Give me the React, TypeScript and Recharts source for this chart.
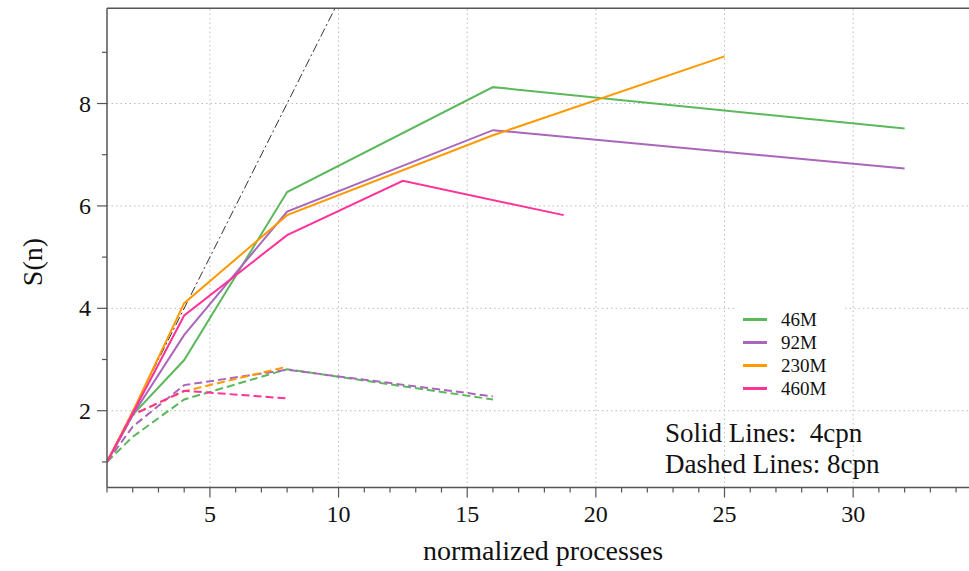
import { LineChart, Line, XAxis, YAxis, ReferenceLine } from "recharts";

// solid = 4cpn, dashed = 8cpn
const X_46M = [1, 2, 4, 8, 16, 32];
const X_92M = [1, 2, 4, 8, 16, 32];
const X_230M = [1, 2, 4, 8, 16, 25];
const X_460M = [1, 2, 4, 8, 12.5, 18.75];

const SOLID_46M = [1, 1.92, 2.99, 6.27, 8.32, 7.51];
const SOLID_92M = [1, 1.92, 3.48, 5.89, 7.48, 6.73];
const SOLID_230M = [1, 1.98, 4.1, 5.82, 7.38, 8.92];
const SOLID_460M = [1, 1.95, 3.86, 5.43, 6.49, 5.82];

const XD_46M = [1, 2, 4, 8, 16];
const XD_92M = [1, 2, 4, 8, 16];
const XD_230M = [1, 2, 4, 8];
const XD_460M = [1, 2, 4, 8];

const DASHED_46M = [1, 1.49, 2.22, 2.81, 2.22];
const DASHED_92M = [1, 1.69, 2.5, 2.8, 2.28];
const DASHED_230M = [1, 1.92, 2.38, 2.86];
const DASHED_460M = [1, 1.92, 2.39, 2.24];

const IDEAL_X = [1, 10];
const IDEAL_Y = [1, 10];

const X_TICKS = [1, 2, 3, 4, 5, 6, 7, 8, 9, 10, 11, 12, 13, 14, 15, 16, 17, 18, 19, 20, 21, 22, 23, 24, 25, 26, 27, 28, 29, 30, 31, 32, 33, 34];
const X_LABELS = [5, 10, 15, 20, 25, 30];
const Y_TICKS = [1, 2, 3, 4, 5, 6, 7, 8, 9];
const Y_LABELS = [2, 4, 6, 8];

const SERIES = [
  { name: "46M", color: "#5cb85c" },
  { name: "92M", color: "#aa66bb" },
  { name: "230M", color: "#ff9900" },
  { name: "460M", color: "#ff3399" },
];

const pts = (xs: number[], ys: number[]) => xs.map((x, i) => ({ x, y: ys[i] }));

const solid = [
  pts(X_46M, SOLID_46M),
  pts(X_92M, SOLID_92M),
  pts(X_230M, SOLID_230M),
  pts(X_460M, SOLID_460M),
];
const dashed = [
  pts(XD_46M, DASHED_46M),
  pts(XD_92M, DASHED_92M),
  pts(XD_230M, DASHED_230M),
  pts(XD_460M, DASHED_460M),
];

const FONT = "'Liberation Serif', serif";
const AXIS = "#555";
const GRID = "#bbb";

const labelStyle = { fontFamily: FONT, fontSize: 24 };

const XTick = ({ x, y, payload }: any) => {
  const major = X_LABELS.includes(payload.value);
  return (
    <g>
      <line x1={x} x2={x} y1={y} y2={y + (major ? 10 : 5)} stroke={AXIS} strokeWidth={1.2} />
      {major && (
        <text x={x} y={y + 34} textAnchor="middle" style={labelStyle} fill="#111">
          {payload.value}
        </text>
      )}
    </g>
  );
};

const YTick = ({ x, y, payload }: any) => {
  const major = Y_LABELS.includes(payload.value);
  return (
    <g>
      <line x1={x} x2={x - (major ? 10 : 5)} y1={y} y2={y} stroke={AXIS} strokeWidth={1.2} />
      {major && (
        <text x={x - 16} y={y + 8} textAnchor="end" style={labelStyle} fill="#111">
          {payload.value}
        </text>
      )}
    </g>
  );
};

export default function App() {
  return (
    <div style={{ position: "fixed", left: 0, top: 0, width: 969, height: 571, overflow: "hidden", background: "#fff" }}>
      <LineChart width={990} height={571} margin={{ top: 8.3, right: 8.2, bottom: 23.5, left: 1 }}>
        <XAxis
          type="number"
          dataKey="x"
          domain={[1, 35]}
          allowDataOverflow
          ticks={X_TICKS}
          interval={0}
          tick={<XTick />}
          tickLine={false}
          tickSize={0}
          tickMargin={0}
          height={60}
          axisLine={{ stroke: AXIS, strokeWidth: 1.5 }}
        />
        <YAxis
          type="number"
          dataKey="y"
          domain={[0.5, 9.86]}
          allowDataOverflow
          ticks={Y_TICKS}
          interval={0}
          tick={<YTick />}
          tickLine={false}
          tickSize={0}
          tickMargin={0}
          width={106}
          axisLine={{ stroke: AXIS, strokeWidth: 1.5 }}
        />
        {X_LABELS.map((v) => (
          <ReferenceLine key={"gx" + v} x={v} stroke={GRID} strokeDasharray="1.5 3" />
        ))}
        {Y_LABELS.map((v) => (
          <ReferenceLine key={"gy" + v} y={v} stroke={GRID} strokeDasharray="1.5 3" />
        ))}
        <ReferenceLine y={9.86} stroke={AXIS} strokeWidth={1.5} />
        <Line
          data={pts(IDEAL_X, IDEAL_Y)}
          dataKey="y"
          stroke="#333"
          strokeWidth={1}
          strokeDasharray="9 3 2 3"
          dot={false}
          isAnimationActive={false}
          legendType="none"
        />
        {SERIES.map((s, i) => (
          <Line
            key={"d" + s.name}
            data={dashed[i]}
            dataKey="y"
            stroke={s.color}
            strokeWidth={2}
            strokeDasharray="8 4"
            dot={false}
            isAnimationActive={false}
          />
        ))}
        {SERIES.map((s, i) => (
          <Line
            key={"s" + s.name}
            data={solid[i]}
            dataKey="y"
            name={s.name}
            stroke={s.color}
            strokeWidth={2}
            dot={false}
            isAnimationActive={false}
          />
        ))}
      </LineChart>
      <div
        style={{
          position: "absolute",
          left: 736,
          top: 305,
          width: 107,
          padding: "3px 0",
          background: "#fff",
          fontFamily: FONT,
          fontSize: 19,
          color: "#111",
        }}
      >
        {SERIES.map((s) => (
          <div key={s.name} style={{ display: "flex", alignItems: "center", height: 23 }}>
            <span style={{ display: "inline-block", width: 24, height: 3, background: s.color, marginLeft: 7, marginRight: 14 }} />
            <span>{s.name}</span>
          </div>
        ))}
      </div>
      <svg width={969} height={571} style={{ position: "absolute", left: 0, top: 0, pointerEvents: "none" }}>
        <text x={32} y={262} transform="rotate(-90 32 262)" textAnchor="middle" dominantBaseline="central" fontFamily={FONT} fontSize={28} fill="#111">
          S(n)
        </text>
        <text x={543} y={560} textAnchor="middle" fontFamily={FONT} fontSize={28} fill="#111">
          normalized processes
        </text>
        <text x={665} y={442} fontFamily={FONT} fontSize={27} fill="#111" xmlSpace="preserve">
          {"Solid Lines:  4cpn"}
        </text>
        <text x={665} y={473} fontFamily={FONT} fontSize={27} fill="#111">
          Dashed Lines: 8cpn
        </text>
      </svg>
    </div>
  );
}
